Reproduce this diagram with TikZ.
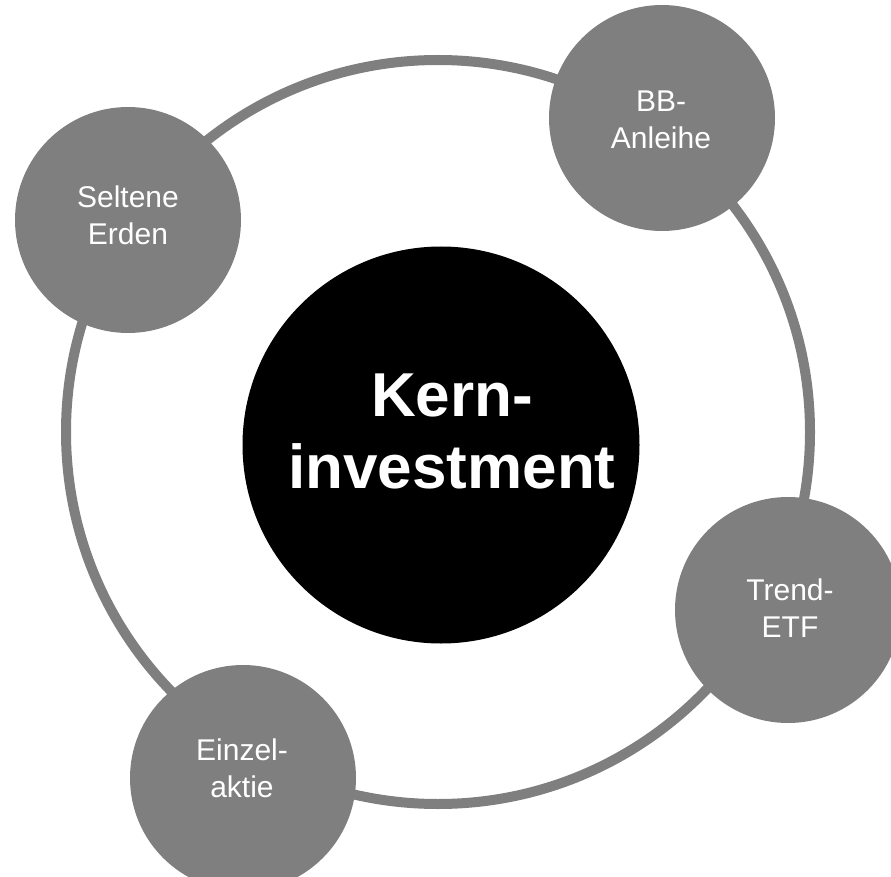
\documentclass[tikz,border=0pt]{standalone}
\usepackage{fontspec}
\setmainfont{Liberation Sans}

\definecolor{ringgray}{HTML}{7F7F7F}

\tikzset{
    bubble/.style={circle,fill=ringgray,minimum size=226pt,inner sep=0pt},
    bubbletext/.style={text=white,align=center,font=\fontsize{30}{37}\selectfont},
}

\newcommand{\Bubble}[4]{%
    \node[bubble] (#1) at (#2) {};
    \node[bubbletext] (#1text) at (#3) {#4};
}

\begin{document}
\begin{tikzpicture}[x=1pt,y=-1pt]
        \useasboundingbox (0,0) rectangle (891,877);
        \clip (0,0) rectangle (891,877);
        \node[circle,draw=ringgray,line width=10pt,minimum size=744pt,inner sep=0pt] (ring) at (438,432) {};
        \node[circle,fill=black,minimum size=397pt,inner sep=0pt] (kern) at (441,445) {};
        \node[text=white,align=center,font=\bfseries\fontsize{62}{72}\selectfont] (kerntext) at (452,431) {Kern-\\investment};
        \Bubble{erden}{128,220}{128,215}{Seltene\\Erden}
        \Bubble{anleihe}{662,118}{661,120}{BB-\\Anleihe}
        \Bubble{etf}{788,610}{790,608}{Trend-\\ETF}
        \Bubble{aktie}{243,778}{242,768}{Einzel-\\aktie}
    \end{tikzpicture}
\end{document}
